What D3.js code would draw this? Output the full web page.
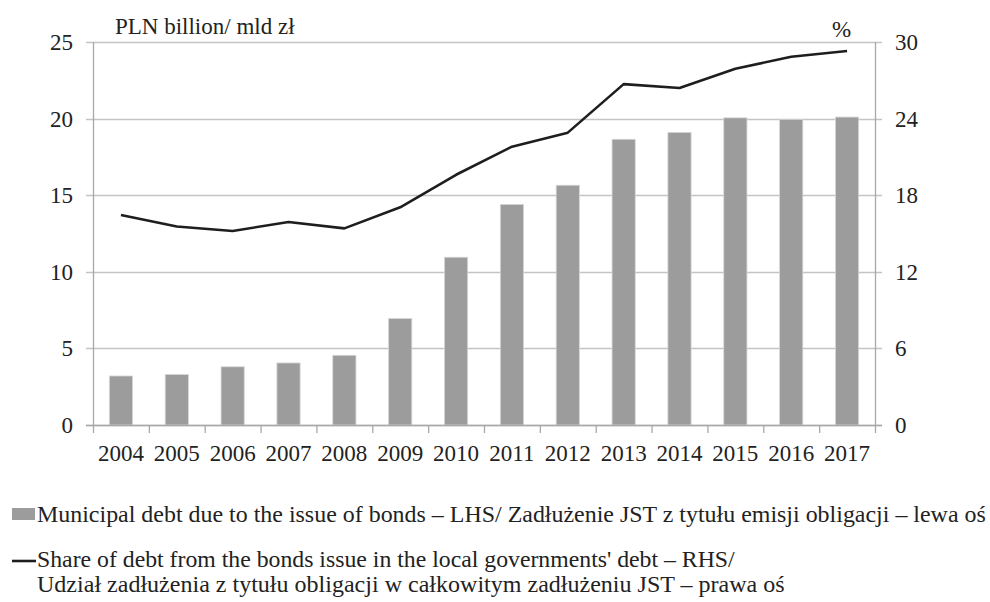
<!DOCTYPE html>
<html>
<head>
<meta charset="utf-8">
<script src="https://cdn.jsdelivr.net/npm/d3@7"></script>
</head>
<body style="margin:0">
<script>
// data
const years = ["2004","2005","2006","2007","2008","2009","2010","2011","2012","2013","2014","2015","2016","2017"];
const bondDebt = [3.2, 3.3, 3.8, 4.05, 4.55, 6.95, 10.95, 14.4, 15.65, 18.65, 19.1, 20.05, 19.95, 20.1];
const bondShare = [16.45, 15.55, 15.2, 15.9, 15.4, 17.05, 19.6, 21.8, 22.9, 26.7, 26.4, 27.9, 28.85, 29.3];
const leftTicks = [0, 5, 10, 15, 20, 25];
const rightTicks = [0, 6, 12, 18, 24, 30];

const legendItems = [
  "Municipal debt due to the issue of bonds – LHS/ Zadłużenie JST z tytułu emisji obligacji – lewa oś",
  "Share of debt from the bonds issue in the local governments' debt – RHS/",
  "Udział zadłużenia z tytułu obligacji w całkowitym zadłużeniu JST – prawa oś"
];

const width = 990, height = 602;
const margin = { top: 42, right: 115, bottom: 177, left: 93 };
const plotW = width - margin.left - margin.right;
const plotH = height - margin.top - margin.bottom;

const barColor = "#9c9c9c";
const gridColor = "#c4c4c4";
const axisColor = "#a8a8a8";

const svg = d3.select("body")
  .append("svg")
  .attr("width", width)
  .attr("height", height);

// every text gets the serif font and size on itself
const addText = (parent, data) => parent.selectAll("text")
  .data(data)
  .join("text")
  .attr("font-size", 23)
  .style("font-family", "'Liberation Serif', monospace")
  .attr("fill", "#222")
  .text(d => d);

const g = svg.append("g")
  .attr("transform", `translate(${margin.left},${margin.top})`);

const x = d3.scaleBand()
  .domain(years)
  .range([0, plotW])
  .padding(0);

const yL = d3.scaleLinear().domain([0, 25]).range([plotH, 0]);
const yR = d3.scaleLinear().domain([0, 30]).range([plotH, 0]);

// gridlines
g.append("g")
  .selectAll("line")
  .data(leftTicks)
  .join("line")
  .attr("x1", -7)
  .attr("x2", plotW + 7)
  .attr("y1", d => Math.round(yL(d)) + 0.5)
  .attr("y2", d => Math.round(yL(d)) + 0.5)
  .attr("stroke", gridColor)
  .attr("stroke-width", 1.5);

// vertical axis lines
g.append("line")
  .attr("x1", 0.5).attr("x2", 0.5)
  .attr("y1", 0).attr("y2", plotH)
  .attr("stroke", axisColor).attr("stroke-width", 1.3);
g.append("line")
  .attr("x1", plotW + 0.5).attr("x2", plotW + 0.5)
  .attr("y1", 0).attr("y2", plotH)
  .attr("stroke", axisColor).attr("stroke-width", 1.3);

// bars
const barW = x.bandwidth() * 0.415;
g.append("g")
  .selectAll("rect")
  .data(years)
  .join("rect")
  .attr("x", (d) => x(d) + (x.bandwidth() - barW) / 2)
  .attr("y", (d, i) => yL(bondDebt[i]))
  .attr("width", barW)
  .attr("height", (d, i) => plotH - yL(bondDebt[i]))
  .attr("fill", barColor)
  .attr("stroke", "#d6d6d6")
  .attr("stroke-width", 0.8);

// bottom axis, ticks at band edges
const xAxis = g.append("g")
  .attr("transform", `translate(0,${plotH})`);
xAxis.append("line")
  .attr("x1", -7).attr("x2", plotW + 7)
  .attr("y1", 0.5).attr("y2", 0.5)
  .attr("stroke", axisColor).attr("stroke-width", 1.5);
xAxis.selectAll("line.tick")
  .data(years.concat(["end"]))
  .join("line")
  .attr("class", "tick")
  .attr("x1", (d, i) => i < years.length ? x(d) + 0.5 : plotW + 0.5)
  .attr("x2", (d, i) => i < years.length ? x(d) + 0.5 : plotW + 0.5)
  .attr("y1", 0)
  .attr("y2", 8)
  .attr("stroke", axisColor)
  .attr("stroke-width", 1.3);
addText(xAxis.append("g"), years)
  .attr("x", (d) => x(d) + x.bandwidth() / 2)
  .attr("y", 36)
  .attr("text-anchor", "middle");

// left labels
addText(g.append("g"), leftTicks)
  .attr("x", -20)
  .attr("y", d => yL(d) + 8)
  .attr("text-anchor", "end");

// right labels
addText(g.append("g"), rightTicks)
  .attr("x", plotW + 20)
  .attr("y", d => yR(d) + 8)
  .attr("text-anchor", "start");

// unit labels
addText(svg.append("g"), ["PLN billion/ mld zł"])
  .attr("x", 115)
  .attr("y", 34);
addText(svg.append("g"), ["%"])
  .attr("x", 832)
  .attr("y", 37);

// line series
const line = d3.line()
  .x((d, i) => x(years[i]) + x.bandwidth() / 2)
  .y(d => yR(d));

g.append("path")
  .datum(bondShare)
  .attr("d", line)
  .attr("fill", "none")
  .attr("stroke", "#1e1e1e")
  .attr("stroke-width", 2.6)
  .attr("stroke-linejoin", "round");

// legend
const legend = svg.append("g");
legend.append("rect")
  .attr("x", 12).attr("y", 508)
  .attr("width", 23).attr("height", 12)
  .attr("fill", barColor);
legend.append("line")
  .attr("x1", 12).attr("x2", 36)
  .attr("y1", 561).attr("y2", 561)
  .attr("stroke", "#1e1e1e").attr("stroke-width", 2.6);

// the legend type is condensed: squeeze each row to its width in the reference
const legendRows = [
  { y: 522, x: 37, w: 949 },
  { y: 567, x: 37, w: 698 },
  { y: 592, x: 37, w: 748 }
];
addText(legend.append("g"), legendItems)
  .attr("transform", (d, i) => `translate(${legendRows[i].x},${legendRows[i].y})`)
  .each(function (d, i) {
    const natural = this.getComputedTextLength();
    const k = natural > 0 ? legendRows[i].w / natural : 1;
    d3.select(this).attr("transform",
      `translate(${legendRows[i].x},${legendRows[i].y}) scale(${k},1)`);
  });
</script>
</body>
</html>
